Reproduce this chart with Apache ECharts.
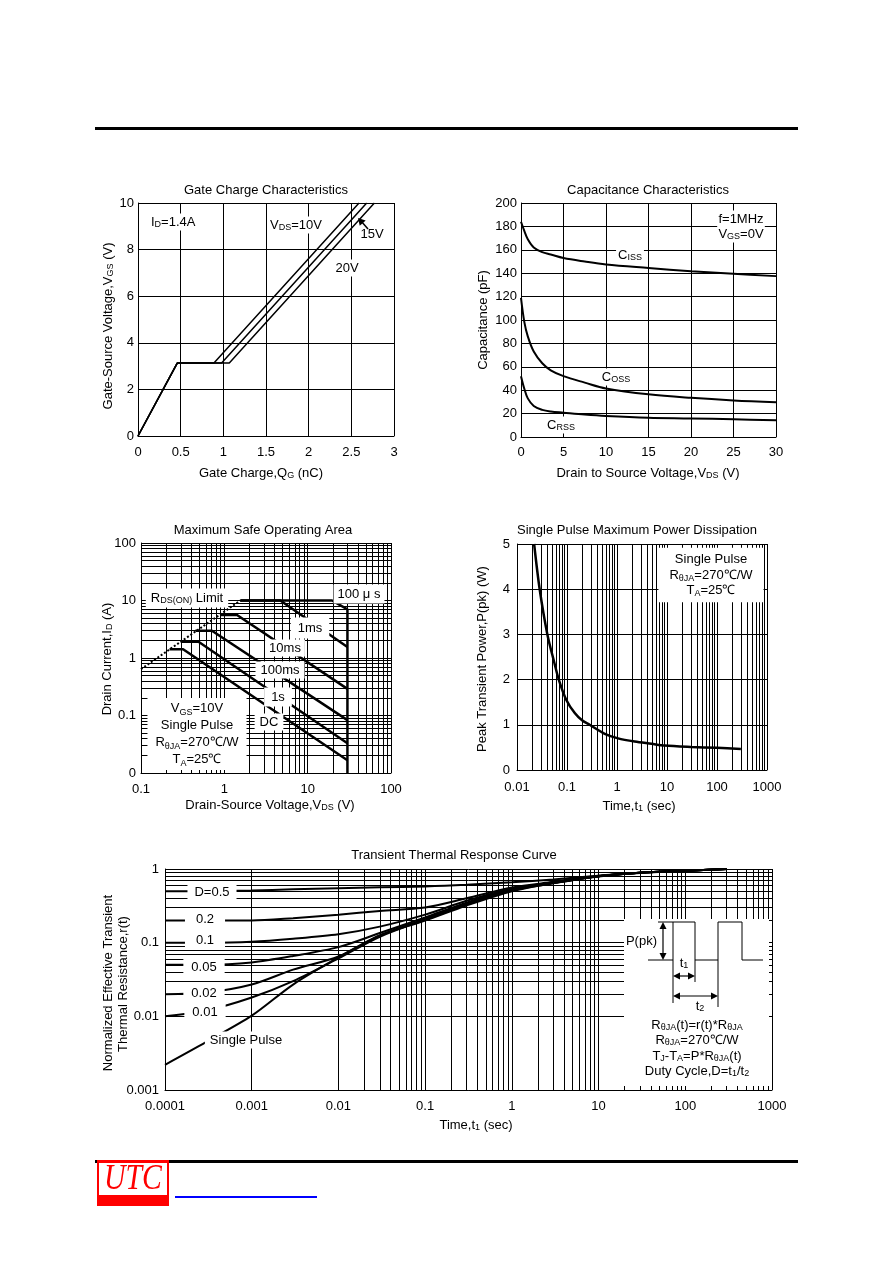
<!DOCTYPE html>
<html><head><meta charset="utf-8">
<script src="https://cdn.jsdelivr.net/npm/echarts@6/dist/echarts.min.js"></script>
<style>html,body{margin:0;padding:0;background:#fff}#c{width:892px;height:1263px}</style>
</head><body><div id="c"></div>
<script>
// ---------- DATA ----------
// Gate charge: [Qg (nC), Vgs (V)]
const gate10V = [[0, 0], [0.46, 3.13], [0.89, 3.13], [2.59, 10]];
const gate15V = [[0, 0], [0.46, 3.13], [0.98, 3.13], [2.68, 10]];
const gate20V = [[0, 0], [0.46, 3.13], [1.07, 3.13], [2.77, 10]];

// Capacitance vs Vds
const capVds = [0, 0.4, 0.8, 1.5, 2.5, 3.5, 5, 7.5, 10, 15, 20, 25, 30];
const capCiss = [184, 176, 169, 162, 158, 156, 153, 150, 147.5, 144.5, 141.7, 139.5, 137.5];
const capCoss = [119, 98, 86, 73, 63, 57, 52, 46.5, 41.5, 36.5, 33.5, 31.3, 29.8];
const capCrss = [52, 41, 33, 26.5, 23.2, 21.8, 20.8, 19.2, 18, 16.5, 15.9, 15.1, 14.3];

// Safe operating area: [Vds (V), Id (A)]
const soaRdsLimit = [[0.1, 0.64], [1.56, 10]];
const soa100us = [[1.56, 10], [19.6, 10], [30, 7.0], [30, 0.01]];
const soa1ms = [[1.56, 10], [4.7, 10], [30, 1.55]];
const soa10ms = [[0.89, 5.6], [1.42, 5.6], [30, 0.29]];
const soa100ms = [[0.45, 2.97], [0.71, 2.97], [30, 0.083]];
const soa1s = [[0.30, 1.91], [0.49, 1.91], [30, 0.033]];
const soaDC = [[0.22, 1.42], [0.32, 1.42], [30, 0.0167]];

// Single pulse max power
const pwrTime = [0.022, 0.0284, 0.0405, 0.055, 0.069, 0.097, 0.143, 0.2, 0.284, 0.57, 1.05, 2.26, 4.9, 9, 30, 100, 300];
const pwrPeak = [5.0, 4.0, 3.0, 2.4, 1.99, 1.55, 1.26, 1.1, 1.0, 0.8, 0.7, 0.63, 0.58, 0.54, 0.51, 0.49, 0.465];

// Transient thermal response
const thermTime = [1e-4, 3e-4, 1e-3, 3e-3, 1e-2, 3e-2, 0.1, 0.3, 1, 3, 10, 30, 100, 300];
const thermD05 = [0.5, 0.5, 0.51, 0.53, 0.55, 0.565, 0.58, 0.61, 0.66, 0.72, 0.81, 0.88, 0.95, 1.0];
const thermD02 = [0.2, 0.2, 0.2, 0.215, 0.24, 0.27, 0.3, 0.4, 0.56, 0.67, 0.81, 0.89, 0.95, 1.0];
const thermD01 = [0.1, 0.1, 0.103, 0.113, 0.13, 0.165, 0.24, 0.37, 0.54, 0.66, 0.8, 0.89, 0.95, 1.0];
const thermD005 = [0.05, 0.05, 0.054, 0.066, 0.087, 0.135, 0.22, 0.35, 0.53, 0.65, 0.8, 0.89, 0.95, 1.0];
const thermD002 = [0.02, 0.021, 0.027, 0.043, 0.065, 0.125, 0.21, 0.34, 0.52, 0.65, 0.8, 0.89, 0.95, 1.0];
const thermD001 = [0.01, 0.012, 0.018, 0.03, 0.061, 0.12, 0.205, 0.33, 0.51, 0.64, 0.8, 0.89, 0.95, 1.0];
const thermSingle = [0.0022, 0.0045, 0.0102, 0.027, 0.063, 0.125, 0.2, 0.32, 0.5, 0.64, 0.79, 0.89, 0.95, 1.0];

// ---------- HELPERS ----------
const FONT = '"Liberation Sans", Arial, Helvetica, sans-serif';
const FS = 13;
const K = '#000';
const RICH = { s: { fontSize: 9, fontFamily: FONT, fill: K, verticalAlign: 'bottom', lineHeight: 8 } };
const zip = (xs, ys) => xs.map((x, i) => [x, ys[i]]);

function minorDecades(lo, hi) {
  const out = [];
  for (let e = lo; e < hi; e++) for (let k = 2; k <= 9; k++) out.push(+(k * Math.pow(10, e)).toPrecision(3));
  return out;
}
function logLabel(v) {
  const e = Math.round(Math.log10(v));
  return e >= 0 ? String(Math.pow(10, e)) : Math.pow(10, e).toFixed(-e);
}
function axis(gi, o) {
  return Object.assign({
    gridIndex: gi,
    axisLine: { show: true, onZero: false, lineStyle: { color: K, width: 1 } },
    axisTick: { show: false },
    minorTick: { show: false },
    splitLine: { show: true, lineStyle: { color: K, width: 1 } },
    axisLabel: { color: K, fontSize: FS, fontFamily: FONT, margin: o.margin || 8,
      showMinLabel: true, showMaxLabel: true, formatter: o.fmt },
  }, o.ax);
}
function line(gi, data, width, extra) {
  return Object.assign({ type: 'line', xAxisIndex: gi, yAxisIndex: gi, data, symbol: 'none',
    silent: true, z: 3, lineStyle: { color: K, width } }, extra || {});
}
function gridLines(gi, xs, ys) {
  return { type: 'line', xAxisIndex: gi, yAxisIndex: gi, data: [], silent: true, z: 1,
    markLine: { silent: true, symbol: ['none', 'none'], animation: false, label: { show: false },
      lineStyle: { color: K, width: 1, type: 'solid', opacity: 1 },
      emphasis: { disabled: true },
      data: xs.map(v => ({ xAxis: v })).concat(ys.map(v => ({ yAxis: v }))) } };
}
function T(x, y, text, o) {
  o = o || {};
  const size = o.size || FS;
  const al = o.align || 'center';
  const st = { text, fill: K, font: size + 'px ' + FONT, align: al, verticalAlign: 'middle',
    textAlign: al, textVerticalAlign: 'middle', rich: RICH, lineHeight: o.lh || 15 };
  if (o.bg) { st.backgroundColor = '#fff'; st.padding = o.pad || [2, 3]; }
  return { type: 'text', x, y, rotation: o.rot || 0, z: 100, silent: true, style: st };
}
const ROT = Math.PI / 2;
function seg(x1, y1, x2, y2, w) {
  return { type: 'line', z: 101, silent: true, shape: { x1, y1, x2, y2 }, style: { stroke: K, lineWidth: w || 1 } };
}
function head(tx, ty, fx, fy, L, W) {
  L = L || 7; W = W || 3.5;
  const dx = tx - fx, dy = ty - fy, n = Math.hypot(dx, dy), ux = dx / n, uy = dy / n;
  const bx = tx - ux * L, by = ty - uy * L;
  return { type: 'polygon', z: 101, silent: true,
    shape: { points: [[tx, ty], [bx - uy * W, by + ux * W], [bx + uy * W, by - ux * W]] }, style: { fill: K } };
}
function rect(x, y, w, h, fill, z) {
  return { type: 'rect', z: z || 90, silent: true, shape: { x, y, width: w, height: h }, style: { fill } };
}

// ---------- CHART ----------
const chart = echarts.init(document.getElementById('c'), null, { renderer: 'canvas' });
const gridBase = { show: false, containLabel: false, outerBoundsMode: 'none' };

const option = {
  animation: false,
  backgroundColor: '#fff',
  grid: [
    Object.assign({ left: 138, top: 203, width: 256, height: 233 }, gridBase),
    Object.assign({ left: 521, top: 203, width: 255, height: 234 }, gridBase),
    Object.assign({ left: 141, top: 543, width: 250, height: 230 }, gridBase),
    Object.assign({ left: 517, top: 544, width: 250, height: 226 }, gridBase),
    Object.assign({ left: 165, top: 869, width: 607, height: 221 }, gridBase),
  ],
  xAxis: [
    axis(0, { margin: 10, ax: { type: 'value', min: 0, max: 3, interval: 0.5 } }),
    axis(1, { margin: 9, ax: { type: 'value', min: 0, max: 30, interval: 5 } }),
    axis(2, { margin: 10, fmt: logLabel, ax: { type: 'log', logBase: 10, min: 0.1, max: 100 } }),
    axis(3, { margin: 11, fmt: logLabel, ax: { type: 'log', logBase: 10, min: 0.01, max: 1000 } }),
    axis(4, { margin: 10, fmt: logLabel, ax: { type: 'log', logBase: 10, min: 0.0001, max: 1000 } }),
  ],
  yAxis: [
    axis(0, { margin: 4, ax: { type: 'value', min: 0, max: 10, interval: 2 } }),
    axis(1, { margin: 4, ax: { type: 'value', min: 0, max: 200, interval: 20 } }),
    axis(2, { margin: 5, fmt: v => { const s = logLabel(v); return s === '0.01' ? '0' : s; },
      ax: { type: 'log', logBase: 10, min: 0.01, max: 100 } }),
    axis(3, { margin: 7, ax: { type: 'value', min: 0, max: 5, interval: 1 } }),
    axis(4, { margin: 6, fmt: logLabel, ax: { type: 'log', logBase: 10, min: 0.001, max: 1 } }),
  ],
  series: [
    // gate charge
    line(0, gate10V, 1.5), line(0, gate15V, 1.5), line(0, gate20V, 1.5),
    // capacitance
    line(1, zip(capVds, capCiss), 2, { smooth: 0.35 }),
    line(1, zip(capVds, capCoss), 2, { smooth: 0.35 }),
    line(1, zip(capVds, capCrss), 2, { smooth: 0.35 }),
    // SOA
    gridLines(2, minorDecades(-1, 2), minorDecades(-2, 2)),
    line(2, soaRdsLimit, 2, { lineStyle: { color: K, width: 2, type: 'dotted' } }),
    line(2, soa100us, 2.5), line(2, soa1ms, 2.5), line(2, soa10ms, 2.5),
    line(2, soa100ms, 2.5), line(2, soa1s, 2.5), line(2, soaDC, 2.5),
    // power
    gridLines(3, minorDecades(-2, 3), []),
    line(3, zip(pwrTime, pwrPeak), 2.5, { smooth: 0.3 }),
    // thermal
    gridLines(4, minorDecades(-4, 3), minorDecades(-3, 0)),
    line(4, zip(thermTime, thermD05), 2, { smooth: 0.3 }),
    line(4, zip(thermTime, thermD02), 2, { smooth: 0.3 }),
    line(4, zip(thermTime, thermD01), 2, { smooth: 0.3 }),
    line(4, zip(thermTime, thermD005), 2, { smooth: 0.3 }),
    line(4, zip(thermTime, thermD002), 2, { smooth: 0.3 }),
    line(4, zip(thermTime, thermD001), 2, { smooth: 0.3 }),
    line(4, zip(thermTime, thermSingle), 2, { smooth: 0.3 }),
  ],
  graphic: { elements: [
    // page rules & logo
    rect(95, 127, 703, 3, K, 50),
    rect(95, 1160, 703, 3, K, 50),
    rect(97, 1160, 72, 46, '#ff0000', 51),
    rect(99, 1163, 68, 32, '#fff', 52),
    { type: 'text', x: 133, y: 1180, z: 53, silent: true, scaleX: 0.85,
      style: { text: 'UTC', fill: '#ff0000', font: 'italic 35px "Liberation Serif", "Times New Roman", serif',
        align: 'center', verticalAlign: 'middle', textAlign: 'center', textVerticalAlign: 'middle' } },
    rect(175, 1196, 142, 2, '#0000ff', 51),

    // titles
    T(266, 190, 'Gate Charge Characteristics'),
    T(648, 190, 'Capacitance Characteristics'),
    T(263, 530, 'Maximum Safe Operating Area'),
    T(637, 530, 'Single Pulse Maximum Power Dissipation'),
    T(454, 855, 'Transient Thermal Response Curve'),

    // axis names
    T(261, 473, 'Gate Charge,Q{s|G} (nC)'),
    T(648, 473, 'Drain to Source Voltage,V{s|DS} (V)'),
    T(270, 805, 'Drain-Source Voltage,V{s|DS} (V)'),
    T(639, 806, 'Time,t{s|1} (sec)'),
    T(476, 1125, 'Time,t{s|1} (sec)'),
    T(108, 326, 'Gate-Source Voltage,V{s|GS} (V)', { rot: ROT }),
    T(483, 320, 'Capacitance (pF)', { rot: ROT }),
    T(107, 659, 'Drain Current,I{s|D} (A)', { rot: ROT }),
    T(482, 659, 'Peak Transient Power,P(pk) (W)', { rot: ROT }),
    T(108, 983, 'Normalized Effective Transient', { rot: ROT }),
    T(123, 984, 'Thermal Resistance,r(t)', { rot: ROT }),

    // gate charge notes
    T(150, 222, 'I{s|D}=1.4A', { align: 'left', bg: true, pad: [1, 1] }),
    T(296, 225, 'V{s|DS}=10V', { bg: true, pad: [1, 2] }),
    T(372, 234, '15V', { bg: true, pad: [1, 1] }),
    T(347, 268, '20V', { bg: true, pad: [1, 1] }),
    seg(368, 229, 361, 221, 1.5),
    head(358, 218, 368, 229, 7, 4),

    // capacitance notes
    T(741, 219, 'f=1MHz', { bg: true, pad: [1, 1] }),
    T(741, 234, 'V{s|GS}=0V', { bg: true, pad: [1, 1] }),
    T(630, 255, 'C{s|ISS}', { bg: true, pad: [1, 2] }),
    T(616, 377, 'C{s|OSS}', { bg: true, pad: [1, 2] }),
    T(561, 425, 'C{s|RSS}', { bg: true, pad: [1, 2] }),

    // SOA notes
    T(187, 598, 'R{s|DS(ON)} Limit', { bg: true, pad: [2, 5] }),
    T(359, 594, '100 μ s', { bg: true, pad: [2, 4] }),
    T(310, 628, '1ms', { bg: true, pad: [3, 7] }),
    T(285, 648, '10ms', { bg: true, pad: [1, 4] }),
    T(280, 670, '100ms', { bg: true, pad: [1, 5] }),
    T(278, 697, '1s', { bg: true, pad: [2, 7] }),
    T(269, 722, 'DC', { bg: true, pad: [1, 5] }),
    T(197, 734, 'V{s|GS}=10V\nSingle Pulse\nR{s|θJA}=270℃/W\nT{s|A}=25℃', { bg: true, lh: 17, pad: [2, 8] }),

    // power notes
    T(711, 575, 'Single Pulse\nR{s|θJA}=270℃/W\nT{s|A}=25℃', { bg: true, lh: 15.5, pad: [4, 11] }),

    // thermal duty labels
    T(212, 892, 'D=0.5', { bg: true, pad: [1, 7] }),
    T(205, 919, '0.2', { bg: true, pad: [1, 11] }),
    T(205, 940, '0.1', { bg: true, pad: [1, 11] }),
    T(204, 967, '0.05', { bg: true, pad: [1, 8] }),
    T(204, 993, '0.02', { bg: true, pad: [1, 8] }),
    T(205, 1012, '0.01', { bg: true, pad: [1, 8] }),
    T(246, 1040, 'Single Pulse', { bg: true, pad: [1, 5] }),

    // thermal inset
    rect(624, 919, 145, 167, '#fff', 95),
    { type: 'polyline', z: 101, silent: true, style: { stroke: K, lineWidth: 1, fill: null },
      shape: { points: [[648, 960], [673, 960], [673, 922], [695, 922], [695, 960], [718, 960], [718, 922], [742, 922], [742, 960], [763, 960]] } },
    seg(658, 922, 673, 922), seg(673, 960, 673, 1003), seg(695, 960, 695, 982), seg(718, 960, 718, 1007),
    seg(663, 928, 663, 954, 1.2), head(663, 922, 663, 960), head(663, 960, 663, 922),
    seg(679, 976, 689, 976, 1.2), head(673, 976, 695, 976, 7, 3.5), head(695, 976, 673, 976, 7, 3.5),
    seg(679, 996, 712, 996, 1.2), head(673, 996, 718, 996, 7, 3.5), head(718, 996, 673, 996, 7, 3.5),
    T(657, 941, 'P(pk)', { align: 'right' }),
    T(684, 963, 't{s|1}'),
    T(700, 1006, 't{s|2}'),
    T(697, 1025, 'R{s|θJA}(t)=r(t)*R{s|θJA}'),
    T(697, 1040, 'R{s|θJA}=270℃/W'),
    T(697, 1056, 'T{s|J}-T{s|A}=P*R{s|θJA}(t)'),
    T(697, 1071, 'Duty Cycle,D=t{s|1}/t{s|2}'),
  ] },
};
chart.setOption(option);
</script>
</body></html>
